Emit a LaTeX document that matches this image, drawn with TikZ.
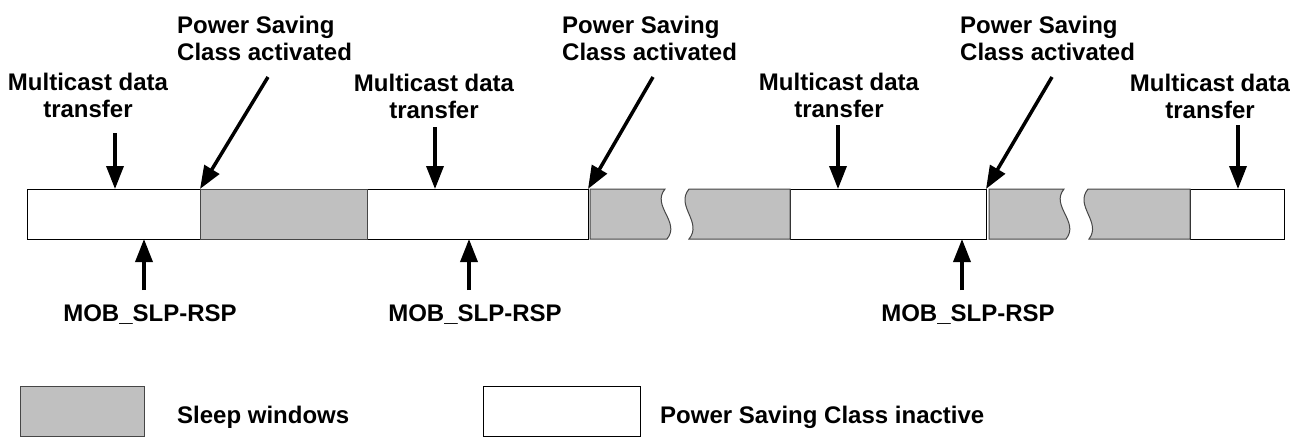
\documentclass[tikz,border=0pt]{standalone}
\usepackage{fontspec}
\setmainfont{Liberation Sans}
\usetikzlibrary{arrows.meta}
\definecolor{sleepgray}{RGB}{192,192,192}
\definecolor{sleepedge}{RGB}{70,70,70}
\tikzset{
  lbl/.style={inner sep=0pt, font=\fontsize{24}{27}\selectfont\bfseries},
  wseg/.style={draw=black, line width=1pt, fill=white, inner sep=0pt, minimum height=50pt, anchor=north west},
  gseg/.style={draw=sleepedge, line width=1pt, fill=sleepgray},
  evt/.style={line width=3.5pt, -{Triangle[length=23pt,width=17pt]}}
}
\begin{document}
\begin{tikzpicture}[x=1pt,y=-1pt]
\useasboundingbox (0,0) rectangle (1298,437);
\fill[white] (0,0) rectangle (1298,437);

% ---- bar: white segments ----
\node[wseg, minimum width=173pt] (w1) at (27,189) {};
\node[wseg, minimum width=221pt] (w2) at (367,189) {};
\node[wseg, minimum width=196pt] (w3) at (790,189) {};
\node[wseg, minimum width=94pt]  (w4) at (1190,189) {};

% ---- bar: sleep windows ----
\draw[gseg] (200,189) rectangle (367,239);
\draw[gseg] (590,189) -- (665,189) .. controls (651,206) and (681,222) .. (667,239) -- (590,239) -- cycle;
\draw[gseg] (689,189) .. controls (675,206) and (703,222) .. (689,239) -- (790,239) -- (790,189) -- cycle;
\draw[gseg] (989,189) -- (1064,189) .. controls (1050,206) and (1080,222) .. (1066,239) -- (989,239) -- cycle;
\draw[gseg] (1088,189) .. controls (1074,206) and (1102,222) .. (1089,239) -- (1190,239) -- (1190,189) -- cycle;

% ---- top labels ----
\node[lbl, anchor=north, align=center] (md1) at (88,73) {Multicast data\\transfer};
\node[lbl, anchor=north, align=center] (md2) at (434,74) {Multicast data\\transfer};
\node[lbl, anchor=north, align=center] (md3) at (839,73) {Multicast data\\transfer};
\node[lbl, anchor=north, align=center] (md4) at (1210,74) {Multicast data\\transfer};
\node[lbl, anchor=north west, align=left] (ps1) at (177,16) {Power Saving\\Class activated};
\node[lbl, anchor=north west, align=left] (ps2) at (562,16) {Power Saving\\Class activated};
\node[lbl, anchor=north west, align=left] (ps3) at (960,16) {Power Saving\\Class activated};

% ---- bottom labels ----
\node[lbl, anchor=base] (mob1) at (150,321) {MOB\_SLP-RSP};
\node[lbl, anchor=base] (mob2) at (475,321) {MOB\_SLP-RSP};
\node[lbl, anchor=base] (mob3) at (968,321) {MOB\_SLP-RSP};

% ---- arrow end points ----
\coordinate (a1s) at (115,133);  \coordinate (a1e) at (115,189);
\coordinate (a2s) at (435,127);  \coordinate (a2e) at (435,189);
\coordinate (a3s) at (838,125);  \coordinate (a3e) at (838,189);
\coordinate (a4s) at (1238,125); \coordinate (a4e) at (1238,189);
\coordinate (p1s) at (268,77);   \coordinate (p1e) at (200,189);
\coordinate (p2s) at (653,77);   \coordinate (p2e) at (588,189);
\coordinate (p3s) at (1052,77);  \coordinate (p3e) at (986,189);
\coordinate (m1s) at (144,290);  \coordinate (m1e) at (144,239);
\coordinate (m2s) at (469,290);  \coordinate (m2e) at (469,239);
\coordinate (m3s) at (962,290);  \coordinate (m3e) at (962,239);

\draw[evt] (a1s) -- (a1e);
\draw[evt] (a2s) -- (a2e);
\draw[evt] (a3s) -- (a3e);
\draw[evt] (a4s) -- (a4e);
\draw[evt] (p1s) -- (p1e);
\draw[evt] (p2s) -- (p2e);
\draw[evt] (p3s) -- (p3e);
\draw[evt] (m1s) -- (m1e);
\draw[evt] (m2s) -- (m2e);
\draw[evt] (m3s) -- (m3e);

% ---- legend ----
\draw[gseg] (20,386) rectangle (144,436);
\node[lbl, anchor=base west] (lg1) at (177,423) {Sleep windows};
\node[draw=black, line width=1pt, fill=white, inner sep=0pt, minimum width=157pt, minimum height=50pt, anchor=north west] (lgbox) at (483,386) {};
\node[lbl, anchor=base west] (lg2) at (660,423) {Power Saving Class inactive};
\end{tikzpicture}
\end{document}
